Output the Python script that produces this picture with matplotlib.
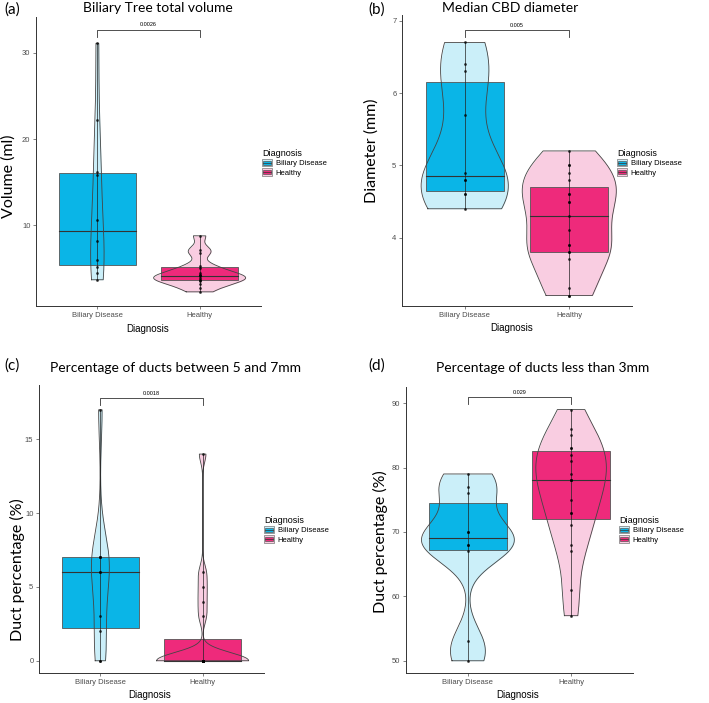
import numpy as np
import matplotlib.pyplot as plt
from matplotlib.patches import Rectangle, Patch
from matplotlib.lines import Line2D
from matplotlib.legend_handler import HandlerBase

groups = ["Biliary Disease", "Healthy"]

# (a) total biliary tree volume (ml)
volume_biliary = [3.7, 4.5, 5.2, 6.0, 8.2, 10.6, 15.8, 16.2, 22.2, 31.1]
volume_healthy = [2.3, 2.8, 3.2, 3.5, 3.7, 3.7, 3.9, 4.1, 4.2, 4.3, 4.5,
                  5.1, 5.3, 6.8, 7.2, 8.8]
# (b) median CBD diameter (mm)
cbd_biliary = [4.4, 4.6, 4.6, 4.8, 4.8, 4.9, 5.7, 6.3, 6.4, 6.7]
cbd_healthy = [3.2, 3.2, 3.3, 3.7, 3.8, 3.8, 3.9, 3.9, 4.1, 4.3, 4.5, 4.5,
               4.6, 4.6, 4.8, 4.9, 5.0, 5.0, 5.2]
# (c) % ducts between 5 and 7mm
mid_biliary = [0, 0, 2, 3, 6, 6, 7, 7, 7, 17]
mid_healthy = [0, 0, 0, 0, 0, 0, 0, 0, 0, 0, 0, 0, 0, 0, 3, 4, 5, 6, 14]
# (d) % ducts less than 3mm
small_biliary = [50, 53, 67, 68, 68, 70, 70, 76, 77, 79]
small_healthy = [57, 61, 67, 68, 71, 73, 73, 75, 78, 78, 78, 79, 81, 82, 83,
                 83, 85, 86, 89]

p_values = ["0.0026", "0.005", "0.0018", "0.029"]

box_cols = ["#0AB5E7", "#EE2A7B"]
light_cols = ["#CBEFF9", "#F9CDE1"]

W, H = 709, 703


def px(x, y):
    return x / W, 1 - y / H


def kde(vals, n=512):
    v = np.asarray(vals, float)
    sd = v.std(ddof=1)
    q75, q25 = np.percentile(v, [75, 25])
    lo = min(sd, (q75 - q25) / 1.34)
    if lo == 0:
        lo = sd
    bw = 0.9 * lo * len(v) ** -0.2
    y = np.linspace(v.min(), v.max(), n)
    d = np.exp(-0.5 * ((y[:, None] - v[None, :]) / bw) ** 2).sum(1)
    d = d / (len(v) * bw * np.sqrt(2 * np.pi))
    return y, d


class BoxViolinHandler(HandlerBase):
    def __init__(self, light, dark):
        super().__init__()
        self.light = light
        self.dark = dark

    def create_artists(self, legend, orig_handle, xdescent, ydescent,
                       width, height, fontsize, trans):
        x0, y0 = -xdescent, -ydescent
        outer = Rectangle((x0, y0), width, height, fc=self.light,
                          ec="#777777", lw=0.5, transform=trans)
        inner = Rectangle((x0 + width * 0.12, y0 + height * 0.22),
                          width * 0.76, height * 0.56, fc=self.dark,
                          ec="#555555", lw=0.5, transform=trans)
        mid = Line2D([x0 + width * 0.12, x0 + width * 0.88],
                     [y0 + height / 2] * 2, color="#333333", lw=0.5,
                     transform=trans)
        return [outer, inner, mid]


def panel(rect, data, ylim, yticks, pval, bracket, legend_xy):
    ax = fig.add_axes(rect)
    dens = [kde(d) for d in data]
    dmax = max(d.max() for _, d in dens)
    for i, (vals, (y, d)) in enumerate(zip(data, dens)):
        pos = i + 1
        half = 0.45 * d / dmax
        ax.fill_betweenx(y, pos - half, pos + half, color=light_cols[i],
                         lw=0, zorder=1)
        q1, med, q3 = np.percentile(vals, [25, 50, 75])
        ax.add_patch(Rectangle((pos - 0.375, q1), 0.75, q3 - q1,
                               fc=box_cols[i], ec="#555555", lw=0.6, zorder=2))
        ax.plot([pos - 0.375, pos + 0.375], [med, med], color="#333333",
                lw=0.8, zorder=3)
        ox = np.r_[pos - half, (pos + half)[::-1], pos - half[0]]
        oy = np.r_[y, y[::-1], y[0]]
        ax.plot(ox, oy, color="#444444", lw=0.6, zorder=4)
        ax.plot([pos, pos], [min(vals), max(vals)], color="#222222",
                lw=0.5, zorder=4)
        ax.scatter(np.full(len(vals), pos), vals, s=4, color="black",
                   alpha=0.75, lw=0, zorder=5)

    top, tick = bracket
    ax.plot([1, 1, 2, 2], [tick, top, top, tick], color="#333333", lw=0.6)
    ax.text(1.5, top + (ylim[1] - ylim[0]) * 0.008, pval, ha="center",
            va="bottom", fontsize=4, family="Liberation Sans")

    ax.set_xlim(0.4, 2.6)
    ax.set_ylim(*ylim)
    ax.set_xticks([1, 2])
    ax.set_xticklabels(groups)
    ax.set_yticks(yticks)
    for s in ["top", "right"]:
        ax.spines[s].set_visible(False)
    for s in ["left", "bottom"]:
        ax.spines[s].set_linewidth(0.7)
        ax.spines[s].set_color("#333333")
    ax.tick_params(labelsize=5.5, labelcolor="#4D4D4D", color="#4D4D4D",
                   length=2, width=0.5, pad=2)
    for lab in ax.get_xticklabels() + ax.get_yticklabels():
        lab.set_family("Liberation Sans")

    handles = [Patch(), Patch()]
    hmap = {handles[i]: BoxViolinHandler(light_cols[i], box_cols[i])
            for i in range(2)}
    leg = ax.legend(handles, groups, handler_map=hmap, title="Diagnosis",
                    loc="upper left", bbox_to_anchor=px(*legend_xy),
                    bbox_transform=fig.transFigure, frameon=False,
                    borderpad=0, handlelength=1.3, handleheight=1.1,
                    handletextpad=0.5, labelspacing=0.15,
                    prop={"family": "Liberation Sans", "size": 5.5})
    leg.get_title().set_fontsize(6.5)
    leg.get_title().set_family("Liberation Sans")
    leg._legend_box.align = "left"
    return ax


fig = plt.figure(figsize=(W / 100, H / 100), dpi=100)
fig.patch.set_facecolor("white")

panel([36 / W, 1 - 306 / H, 225 / W, 289 / H],
      [volume_biliary, volume_healthy], (0.66, 34.15), [10, 20, 30],
      p_values[0], (32.7, 31.8), (258, 145))
panel([402 / W, 1 - 306 / H, 230 / W, 291 / H],
      [cbd_biliary, cbd_healthy], (3.055, 7.08), [4, 5, 6, 7],
      p_values[1], (6.87, 6.77), (613, 145))
panel([39 / W, 1 - 673 / H, 225 / W, 288 / H],
      [mid_biliary, mid_healthy], (-0.83, 18.68), [0, 5, 10, 15],
      p_values[2], (17.8, 17.3), (260, 512))
panel([406 / W, 1 - 673 / H, 227 / W, 286 / H],
      [small_biliary, small_healthy], (48.1, 92.5), [50, 60, 70, 80, 90],
      p_values[3], (90.9, 89.8), (615, 512))

titles = ["Biliary Tree total volume", "Median CBD diameter",
          "Percentage of ducts between 5 and 7mm",
          "Percentage of ducts less than 3mm"]
title_xy = [(158, 8), (510, 8), (176, 368), (543, 368)]
tags = ["(a)", "(b)", "(c)", "(d)"]
tag_xy = [(12, 10), (377, 10), (12, 366), (377, 366)]
ylabels = ["Volume (ml)", "Diameter (mm)", "Duct percentage (%)",
           "Duct percentage (%)"]
ylab_xy = [(9, 176), (372, 151), (17, 570), (380, 542)]
xlab_xy = [(148, 329), (512, 328), (150, 695), (518, 695)]

for i in range(4):
    fig.text(*px(*title_xy[i]), titles[i], ha="center", va="center",
             fontsize=10, family="Lato")
    fig.text(*px(*tag_xy[i]), tags[i], ha="center", va="center",
             fontsize=11, family="Lato")
    fig.text(*px(*ylab_xy[i]), ylabels[i], ha="center", va="center",
             rotation=90, fontsize=11.5, family="Lato")
    fig.text(*px(*xlab_xy[i]), "Diagnosis", ha="center", va="center",
             fontsize=7, family="Liberation Sans")

fig.savefig("out.png", dpi=100)
